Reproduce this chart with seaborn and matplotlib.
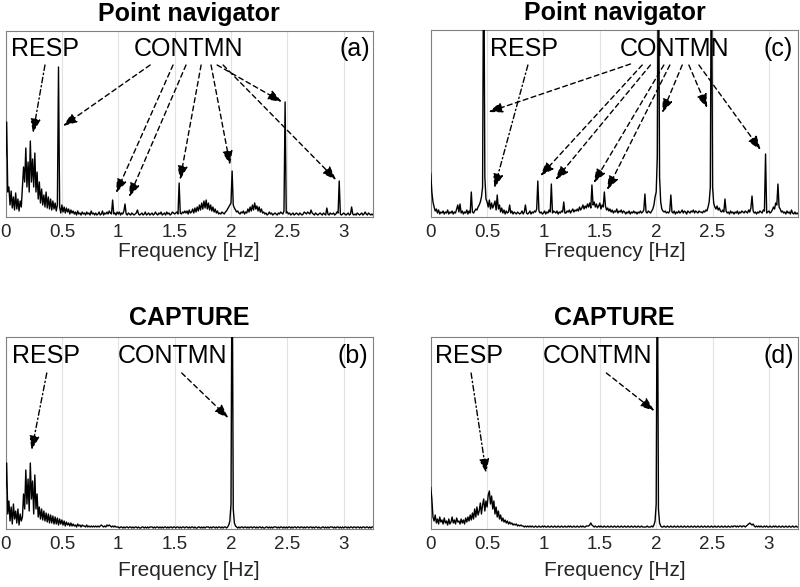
import numpy as np
import pandas as pd
import matplotlib
matplotlib.use("Agg")
import matplotlib.pyplot as plt
import seaborn as sns

# ---------------- data (spectral amplitude, arbitrary units, 0.01 Hz bins) -----
freq_step = 0.01
tick_vals = [0, 0.5, 1, 1.5, 2, 2.5, 3]
tick_labels = ["0", "0.5", "1", "1.5", "2", "2.5", "3"]

# (a) Point navigator, subject 1
amp_a = [
    60, 95, 25, 30, 12, 26, 9, 20, 7, 24,      # 0.00
    8, 18, 6, 16, 10, 30, 50, 35, 69, 30,      # 0.10
    55, 25, 76, 35, 58, 30, 64, 25, 45, 18,    # 0.20
    35, 14, 28, 12, 22, 10, 25, 9, 20, 8,      # 0.30
    18, 7, 16, 8, 14, 6, 12, 150, 10, 4,       # 0.40
    12, 5, 10, 4, 9, 5, 8, 3, 7, 4,            # 0.50
    6, 3, 5, 2, 6, 3, 4, 2, 5, 3,              # 0.60
    4, 2, 5, 3, 4, 2, 6, 3, 4, 2,              # 0.70
    4, 2, 3, 5, 2, 3, 6, 2, 4, 3,              # 0.80
    5, 3, 6, 4, 3, 17, 3, 4, 2, 5,             # 0.90
    3, 5, 2, 4, 3, 6, 13, 3, 2, 4,             # 1.00
    3, 2, 4, 3, 2, 3, 4, 7, 3, 2,              # 1.10
    3, 4, 2, 3, 5, 2, 3, 4, 2, 3,              # 1.20
    4, 2, 3, 5, 3, 2, 4, 3, 5, 2,              # 1.30
    3, 4, 2, 5, 3, 4, 2, 3, 5, 4,              # 1.40
    3, 4, 5, 3, 34, 4, 3, 5, 4, 6,             # 1.50
    4, 6, 3, 7, 4, 5, 8, 4, 9, 5,              # 1.60
    10, 6, 12, 7, 14, 8, 16, 9, 17, 8,         # 1.70
    14, 7, 12, 6, 10, 5, 8, 4, 6, 3,           # 1.80
    4, 3, 5, 4, 3, 5, 6, 8, 10, 12,            # 1.90
    14, 46, 12, 9, 7, 5, 6, 4, 3, 5,           # 2.00
    4, 6, 3, 5, 4, 8, 5, 10, 6, 12,            # 2.10
    7, 14, 8, 11, 6, 10, 5, 8, 4, 5,           # 2.20
    3, 4, 2, 3, 5, 3, 4, 2, 3, 4,              # 2.30
    3, 2, 4, 3, 5, 4, 3, 6, 115, 4,            # 2.40
    5, 3, 4, 2, 3, 4, 2, 3, 4, 3,              # 2.50
    2, 4, 3, 2, 3, 5, 4, 3, 5, 4,              # 2.60
    3, 7, 4, 3, 2, 4, 3, 2, 3, 4,              # 2.70
    3, 2, 4, 3, 2, 9, 3, 2, 4, 3,              # 2.80
    3, 4, 2, 3, 5, 4, 36, 3, 2, 3,             # 2.90
    4, 3, 2, 3, 4, 2, 3, 10, 3, 2,             # 3.00
    3, 2, 4, 3, 2, 3, 4, 2, 3, 5,              # 3.10
    3, 2, 4, 3, 2, 3, 2,                       # 3.20
]

# (b) CAPTURE, subject 1
amp_b = [
    40, 66, 15, 28, 8, 22, 5, 25, 10, 18,      # 0.00
    6, 20, 4, 15, 8, 12, 35, 20, 59, 25,       # 0.10
    50, 18, 66, 30, 48, 15, 54, 20, 35, 12,    # 0.20
    22, 10, 20, 9, 18, 8, 16, 7, 15, 6,        # 0.30
    14, 6, 13, 5, 12, 5, 11, 4, 10, 5,         # 0.40
    9, 4, 8, 3, 7, 4, 6, 3, 6, 3,              # 0.50
    5, 3, 4, 2, 5, 3, 4, 2, 4, 3,              # 0.60
    3, 2, 4, 2, 3, 2, 3, 2, 3, 2,              # 0.70
    3, 2, 3, 2, 3, 4, 3, 2, 3, 2,              # 0.80
    4, 3, 4, 3, 2, 3, 2, 3, 2, 2,              # 0.90
    2, 1, 2, 2, 1, 2, 1, 2, 2, 1,              # 1.00
    2, 2, 1, 2, 1, 2, 2, 1, 2, 1,              # 1.10
    1, 2, 2, 1, 2, 1, 2, 1, 2, 2,              # 1.20
    2, 1, 2, 1, 2, 2, 1, 2, 1, 2,              # 1.30
    1, 2, 2, 1, 2, 1, 2, 2, 1, 2,              # 1.40
    2, 1, 2, 2, 1, 2, 1, 2, 2, 1,              # 1.50
    2, 2, 1, 2, 1, 2, 2, 1, 2, 1,              # 1.60
    1, 2, 2, 1, 2, 1, 2, 1, 2, 2,              # 1.70
    2, 1, 2, 1, 2, 2, 1, 2, 1, 2,              # 1.80
    2, 1, 2, 1, 2, 2, 1, 2, 4, 8,              # 1.90
    25, 300, 20, 6, 3, 2, 1, 2, 1, 2,          # 2.00
    2, 1, 2, 2, 1, 2, 1, 2, 2, 1,              # 2.10
    2, 2, 1, 2, 1, 2, 2, 1, 2, 1,              # 2.20
    1, 2, 2, 1, 2, 1, 2, 1, 2, 2,              # 2.30
    2, 1, 2, 1, 2, 2, 1, 2, 1, 2,              # 2.40
    1, 2, 2, 1, 2, 1, 2, 2, 1, 2,              # 2.50
    2, 1, 2, 2, 1, 2, 1, 2, 2, 1,              # 2.60
    2, 2, 1, 2, 1, 2, 2, 1, 2, 1,              # 2.70
    1, 2, 2, 1, 2, 1, 2, 1, 2, 2,              # 2.80
    2, 1, 2, 1, 2, 2, 1, 2, 1, 2,              # 2.90
    1, 2, 2, 1, 2, 1, 2, 2, 1, 2,              # 3.00
    2, 1, 2, 2, 1, 2, 1, 2, 2, 1,              # 3.10
    2, 2, 1, 2, 1, 2, 2,                       # 3.20
]

# (c) Point navigator, subject 2
amp_c = [
    44, 25, 15, 10, 6, 8, 4, 7, 3, 5,          # 0.00
    4, 6, 3, 5, 4, 7, 3, 5, 4, 6,              # 0.10
    3, 5, 4, 8, 12, 5, 13, 4, 6, 3,            # 0.20
    5, 4, 7, 3, 6, 4, 25, 5, 4, 6,             # 0.30
    8, 7, 10, 12, 15, 20, 30, 300, 40, 18,     # 0.40
    15, 10, 17, 8, 14, 9, 12, 16, 7, 22,       # 0.50
    8, 12, 5, 9, 4, 7, 3, 6, 4, 5,             # 0.60
    12, 4, 6, 3, 5, 4, 3, 5, 4, 3,             # 0.70
    4, 6, 3, 5, 12, 4, 3, 4, 6, 3,             # 0.80
    5, 4, 6, 5, 8, 36, 6, 4, 5, 3,             # 0.90
    4, 6, 3, 5, 4, 7, 5, 33, 4, 6,             # 1.00
    5, 4, 6, 3, 5, 4, 6, 5, 15, 4,             # 1.10
    4, 6, 5, 7, 4, 6, 8, 5, 7, 6,              # 1.20
    8, 6, 10, 7, 9, 12, 8, 11, 9, 13,          # 1.30
    10, 14, 9, 32, 12, 15, 10, 13, 9, 11,      # 1.40
    14, 8, 12, 10, 25, 11, 7, 9, 6, 8,         # 1.50
    5, 7, 4, 6, 5, 8, 4, 6, 5, 7,              # 1.60
    4, 6, 5, 3, 5, 4, 6, 3, 5, 4,              # 1.70
    6, 4, 5, 3, 5, 4, 6, 4, 5, 7,              # 1.80
    23, 5, 4, 6, 5, 4, 6, 8, 12, 20,           # 1.90
    25, 60, 300, 40, 15, 8, 6, 5, 6, 4,        # 2.00
    5, 4, 6, 22, 5, 4, 6, 3, 5, 4,             # 2.10
    6, 4, 5, 7, 4, 6, 5, 3, 6, 5,              # 2.20
    4, 6, 5, 7, 4, 6, 5, 4, 6, 5,              # 2.30
    5, 4, 6, 5, 7, 6, 10, 15, 30, 300,         # 2.40
    30, 14, 10, 8, 11, 7, 9, 6, 5, 7,          # 2.50
    5, 18, 6, 4, 5, 3, 6, 4, 5, 3,             # 2.60
    5, 4, 6, 3, 5, 4, 6, 5, 4, 6,              # 2.70
    5, 4, 7, 5, 9, 21, 6, 4, 5, 3,             # 2.80
    5, 4, 6, 5, 4, 7, 6, 63, 4, 5,             # 2.90
    6, 4, 5, 7, 10, 8, 14, 12, 33, 10,         # 3.00
    8, 5, 6, 4, 5, 3, 6, 4, 5, 3,              # 3.10
    7, 4, 3, 5, 3, 4, 3,                       # 3.20
]

# (d) CAPTURE, subject 2
amp_d = [
    42, 30, 12, 8, 14, 6, 10, 5, 12, 7,        # 0.00
    9, 5, 11, 6, 8, 4, 10, 5, 7, 12,           # 0.10
    6, 9, 5, 11, 7, 8, 5, 10, 6, 9,            # 0.20
    5, 11, 7, 12, 8, 14, 9, 16, 10, 20,        # 0.30
    12, 22, 14, 18, 26, 15, 24, 30, 18, 28,    # 0.40
    22, 34, 38, 25, 33, 20, 28, 15, 22, 12,    # 0.50
    18, 10, 14, 8, 11, 7, 9, 6, 8, 5,          # 0.60
    7, 5, 6, 4, 5, 4, 5, 3, 4, 3,              # 0.70
    4, 3, 3, 2, 3, 2, 3, 2, 3, 2,              # 0.80
    3, 2, 2, 3, 2, 2, 3, 2, 2, 3,              # 0.90
    2, 3, 2, 2, 3, 2, 2, 3, 2, 2,              # 1.00
    3, 2, 2, 3, 2, 2, 3, 2, 2, 3,              # 1.10
    2, 2, 3, 2, 3, 2, 2, 3, 2, 2,              # 1.20
    3, 2, 2, 3, 2, 3, 2, 2, 3, 3,              # 1.30
    3, 4, 6, 4, 3, 2, 3, 2, 2, 3,              # 1.40
    2, 3, 2, 2, 3, 2, 2, 3, 2, 2,              # 1.50
    3, 2, 2, 3, 2, 2, 3, 2, 2, 3,              # 1.60
    2, 2, 3, 2, 2, 3, 2, 2, 3, 2,              # 1.70
    2, 3, 2, 2, 3, 2, 2, 3, 2, 2,              # 1.80
    2, 2, 3, 2, 2, 2, 3, 2, 4, 8,              # 1.90
    25, 300, 20, 6, 3, 2, 2, 3, 2, 2,          # 2.00
    3, 2, 2, 3, 2, 2, 3, 2, 2, 3,              # 2.10
    2, 2, 3, 2, 2, 3, 2, 2, 3, 2,              # 2.20
    2, 3, 2, 2, 3, 2, 2, 3, 2, 2,              # 2.30
    3, 2, 2, 3, 2, 2, 3, 2, 2, 3,              # 2.40
    2, 2, 3, 2, 2, 3, 2, 2, 3, 2,              # 2.50
    2, 3, 2, 2, 3, 2, 2, 3, 2, 3,              # 2.60
    3, 2, 3, 2, 3, 3, 2, 3, 3, 2,              # 2.70
    3, 4, 5, 6, 5, 4, 5, 3, 2, 3,              # 2.80
    2, 3, 2, 3, 2, 2, 3, 2, 3, 2,              # 2.90
    2, 3, 2, 2, 3, 2, 3, 2, 2, 3,              # 3.00
    2, 2, 3, 2, 2, 3, 2, 2, 3, 2,              # 3.10
    2, 3, 2, 2, 3, 2, 2,                       # 3.20
]

titles = ["Point navigator", "CAPTURE", "Point navigator", "CAPTURE"]
panel_tags = ["(a)", "(b)", "(c)", "(d)"]

# ---------------- annotations (frequency, amplitude) -------------------------
# label positions: (x of RESP left, x of CONTMN centre, x of tag right, y)
label_pos = {
    "a": (0.052, 1.62, 3.234, 168),
    "b": (0.055, 1.482, 3.219, 173),
    "c": (0.527, 2.163, 3.209, 168),
    "d": (0.038, 1.476, 3.223, 173),
}
resp_arrows = {
    "a": ((0.35, 152), (0.244, 84)),
    "b": ((0.366, 156), (0.232, 79)),
    "c": ((0.862, 152), (0.565, 29)),
    "d": ((0.358, 156), (0.492, 56)),
}
contmn_arrows = {
    "a": [((1.283, 152), (0.510, 91)), ((1.486, 152), (0.980, 24)),
          ((1.601, 152), (1.096, 20)), ((1.735, 152), (1.548, 37)),
          ((1.823, 152), (1.992, 52)), ((1.877, 152), (2.453, 115)),
          ((1.930, 152), (2.933, 37))],
    "b": [((1.563, 156), (1.977, 111))],
    "c": [((1.772, 153), (0.512, 105)), ((1.876, 152), (0.972, 41)),
          ((1.949, 152), (1.105, 37)), ((2.068, 152), (1.445, 34)),
          ((2.121, 152), (1.564, 27)), ((2.231, 152), (2.053, 104)),
          ((2.290, 152), (2.453, 109)), ((2.379, 152), (2.927, 67))],
    "d": [((1.558, 156), (1.985, 118))],
}

# ---------------- drawing -------------------------------------------------------
sns.set_theme(style="white")
plt.rcParams["font.family"] = ["Liberation Sans", "DejaVu Sans"]

fig = plt.figure(figsize=(8.0, 5.87), dpi=100)

layout = {
    "a": dict(amp=amp_a, title=titles[0], tag=panel_tags[0],
              rect=[0.0069, 0.6303, 0.4594, 0.3169], top=186, tpad=7, lpad=1),
    "b": dict(amp=amp_b, title=titles[1], tag=panel_tags[1],
              rect=[0.0069, 0.0988, 0.4594, 0.3271], top=192, tpad=8.5, lpad=6),
    "c": dict(amp=amp_c, title=titles[2], tag=panel_tags[2],
              rect=[0.5384, 0.6303, 0.4594, 0.3186], top=187, tpad=7, lpad=1),
    "d": dict(amp=amp_d, title=titles[3], tag=panel_tags[3],
              rect=[0.5384, 0.0988, 0.4594, 0.3271], top=192, tpad=8.5, lpad=6),
}

text_color = "#262626"
for key, p in layout.items():
    ax = fig.add_axes(p["rect"])
    df = pd.DataFrame({"freq": np.arange(len(p["amp"])) * freq_step,
                       "amp": p["amp"]})
    sns.lineplot(data=df, x="freq", y="amp", ax=ax, color="black",
                 linewidth=1.0, estimator=None, zorder=3)
    ax.set_xlim(0, 3.26)
    ax.set_ylim(0, p["top"])
    ax.set_xticks(tick_vals)
    ax.set_xticklabels(tick_labels)
    ax.set_yticks([])
    ax.set_ylabel("")
    ax.set_xlabel("Frequency [Hz]", fontsize=15, color=text_color, labelpad=p["lpad"])
    ax.tick_params(axis="x", length=0, pad=5, labelsize=13.5, labelcolor=text_color)
    ax.xaxis.grid(True, color="#e2e2e2", linewidth=0.8)
    ax.set_axisbelow(True)
    for s in ax.spines.values():
        s.set_color("#808080")
        s.set_linewidth(0.8)
    ax.set_title(p["title"], fontsize=18, fontweight="bold", pad=p["tpad"], color="black")

    rx, cx, tx, ty = label_pos[key]
    ax.text(rx, ty, "RESP", fontsize=18, ha="left", va="center", color="black", zorder=2)
    ax.text(cx, ty, "CONTMN", fontsize=18, ha="center", va="center", color="black", zorder=2)
    ax.text(tx, ty, p["tag"], fontsize=18, ha="right", va="center", color="black", zorder=2)

    arrow_kw = dict(arrowstyle="-|>,head_length=0.6,head_width=0.22",
                    color="black", lw=1.0, shrinkA=0, shrinkB=0, mutation_scale=14)
    start, tip = resp_arrows[key]
    ax.annotate("", xy=tip, xytext=start,
                arrowprops=dict(linestyle=(0, (4, 2, 1, 2)), **arrow_kw))
    for start, tip in contmn_arrows[key]:
        ax.annotate("", xy=tip, xytext=start,
                    arrowprops=dict(linestyle=(0, (3.5, 2.5)), **arrow_kw))

fig.savefig("out.png", dpi=100)
